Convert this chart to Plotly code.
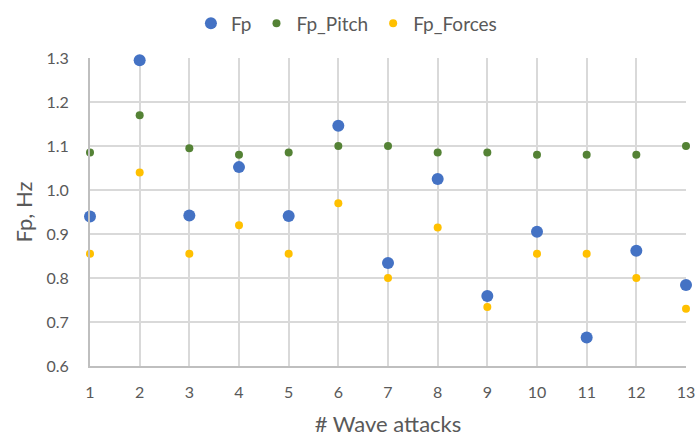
import plotly.graph_objects as go

attacks = list(range(1, 14))
fp = [0.94, 1.295, 0.942, 1.052, 0.941, 1.146, 0.834, 1.025, 0.759, 0.905, 0.665, 0.862, 0.784]
fp_pitch = [1.085, 1.17, 1.095, 1.08, 1.085, 1.1, 1.1, 1.085, 1.085, 1.08, 1.08, 1.08, 1.1]
fp_forces = [0.855, 1.04, 0.855, 0.92, 0.855, 0.97, 0.8, 0.915, 0.734, 0.855, 0.855, 0.8, 0.73]

font_family = "Lato, 'Open Sans', sans-serif"
txt = "#595959"

fig = go.Figure()
fig.add_trace(go.Scatter(x=attacks, y=fp, mode="markers", name="Fp",
                         marker=dict(color="#4472C4", size=12), cliponaxis=False))
fig.add_trace(go.Scatter(x=attacks, y=fp_pitch, mode="markers", name="Fp_Pitch",
                         marker=dict(color="#548235", size=8), cliponaxis=False))
fig.add_trace(go.Scatter(x=attacks, y=fp_forces, mode="markers", name="Fp_Forces",
                         marker=dict(color="#FFC000", size=8), cliponaxis=False))

fig.update_layout(
    width=697, height=438,
    margin=dict(l=90, r=11, t=58, b=72, autoexpand=False),
    paper_bgcolor="white", plot_bgcolor="white",
    font=dict(family=font_family, color=txt, size=16),
    legend=dict(orientation="h", x=0.497, xanchor="center", xref="container",
                y=0.99, yanchor="top", yref="container",
                font=dict(size=19, color=txt), itemsizing="trace",
                itemwidth=30, tracegroupgap=0),
    xaxis=dict(range=[1, 13], tickmode="linear", dtick=1, showgrid=True,
               gridcolor="#d9d9d9", gridwidth=2, showline=True, linecolor="#bfbfbf",
               linewidth=2, zeroline=False, ticks="", ticklabelstandoff=11,
               automargin=False,
               title=dict(text="# Wave attacks", font=dict(size=22, color=txt), standoff=16)),
    yaxis=dict(range=[0.6, 1.3], tickmode="linear", dtick=0.1, tickformat=".1f",
               showgrid=True, gridcolor="#d9d9d9", gridwidth=2, showline=True,
               linecolor="#bfbfbf", linewidth=2, zeroline=False, ticks="",
               ticklabelstandoff=16, automargin=False,
               title=dict(text="Fp, Hz", font=dict(size=22, color=txt), standoff=8)),
)

fig.write_html("out.html")
